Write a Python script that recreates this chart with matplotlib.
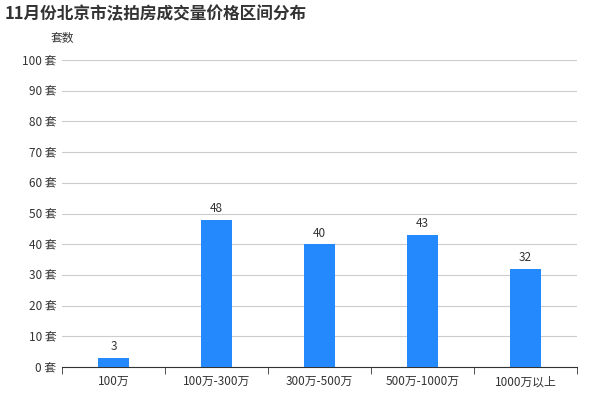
import matplotlib
matplotlib.use("Agg")
import matplotlib.pyplot as plt

plt.rcParams['font.family'] = ['Noto Sans CJK SC', 'DejaVu Sans']

categories = ["100万", "100万-300万", "300万-500万", "500万-1000万", "1000万以上"]
values = [3, 48, 40, 43, 32]
yticks = [0, 10, 20, 30, 40, 50, 60, 70, 80, 90, 100]

fig = plt.figure(figsize=(6, 4), dpi=100)
ax = fig.add_axes([62/600, 33/400, 515/600, 307/400])
x = list(range(len(categories)))
ax.bar(x, values, width=0.3, color="#2489fd", zorder=3)
for xi, v in zip(x, values):
    ax.text(xi, v + 1.5, str(v), ha="center", va="bottom", fontsize=8.5, color="#333333")
ax.set_xlim(-0.5, len(categories) - 0.5)
ax.set_ylim(0, 100)
ax.set_yticks(yticks)
ax.set_yticklabels([f"{t} 套" for t in yticks], fontsize=8.5, color="#333333")
ax.set_xticks(x)
ax.set_xticklabels(categories, fontsize=8.5, color="#333333")
ax.set_xticks([i - 0.5 for i in range(len(categories) + 1)], minor=True)
ax.tick_params(axis="x", which="major", length=0, pad=6)
ax.tick_params(axis="x", which="minor", length=5, color="#333333")
ax.tick_params(axis="y", length=0, pad=4)
ax.grid(axis="y", color="#cccccc", linewidth=0.8, zorder=0)
for s in ["top", "right", "left"]:
    ax.spines[s].set_visible(False)
ax.spines["bottom"].set_color("#333333")
fig.text(5/600, 1 - 14/400, "11月份北京市法拍房成交量价格区间分布", fontsize=12, fontweight="bold",
         color="#333333", va="center", ha="left")
fig.text(62/600, 1 - 38/400, "套数", fontsize=8.5, color="#333333", va="center", ha="center")
fig.savefig("out.png", dpi=100)
